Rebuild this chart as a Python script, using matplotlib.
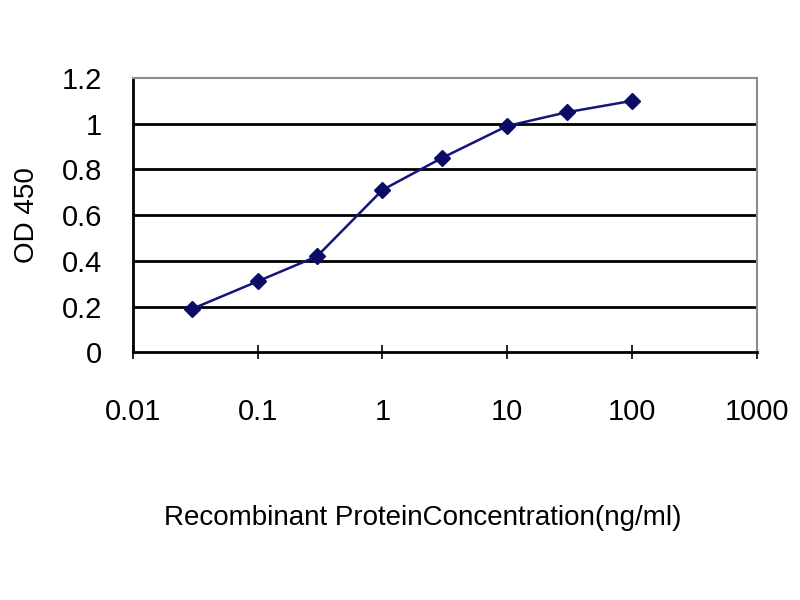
import matplotlib
matplotlib.use("Agg")
import matplotlib.pyplot as plt
from matplotlib.ticker import FixedLocator, NullLocator

# ELISA standard curve
concentration = [0.03, 0.1, 0.3, 1, 3, 10, 30, 100]
od450 = [0.19, 0.31, 0.42, 0.71, 0.85, 0.99, 1.05, 1.10]

x_ticks = [0.01, 0.1, 1, 10, 100, 1000]
x_tick_labels = ["0.01", "0.1", "1", "10", "100", "1000"]
y_ticks = [0, 0.2, 0.4, 0.6, 0.8, 1.0, 1.2]
y_tick_labels = ["0", "0.2", "0.4", "0.6", "0.8", "1", "1.2"]

plt.rcParams["font.family"] = ["Liberation Sans", "DejaVu Sans"]

fig = plt.figure(figsize=(8, 6), dpi=100)
ax = fig.add_axes([0.166, 0.413, 0.78, 0.457])

ax.plot(concentration, od450, color="#14147a", linewidth=1.8,
        marker="D", markersize=8, markerfacecolor="#0c0c66", markeredgecolor="#0c0c66")

ax.set_xscale("log")
ax.set_xlim(0.01, 1000)
ax.set_ylim(0, 1.2)

ax.xaxis.set_major_locator(FixedLocator(x_ticks))
ax.xaxis.set_minor_locator(NullLocator())
ax.set_xticklabels(x_tick_labels)
ax.set_yticks(y_ticks)
ax.set_yticklabels(y_tick_labels)

for y in y_ticks[1:-1]:
    ax.axhline(y, color="black", linewidth=2, zorder=0)

ax.tick_params(axis="x", direction="inout", length=10, width=1.2, pad=28, labelsize=21)
ax.tick_params(axis="y", length=0, pad=22, labelsize=21)

for side in ["left", "bottom"]:
    ax.spines[side].set_color("black")
    ax.spines[side].set_linewidth(2)
for side in ["top", "right"]:
    ax.spines[side].set_color("#8c8c8c")
    ax.spines[side].set_linewidth(1.5)

ax.set_xlabel("Recombinant ProteinConcentration(ng/ml)", fontsize=20, labelpad=57)
ax.xaxis.label.set_x(0.465)
ax.set_ylabel("OD 450", fontsize=20, labelpad=16)

fig.savefig("out.png", dpi=100)
